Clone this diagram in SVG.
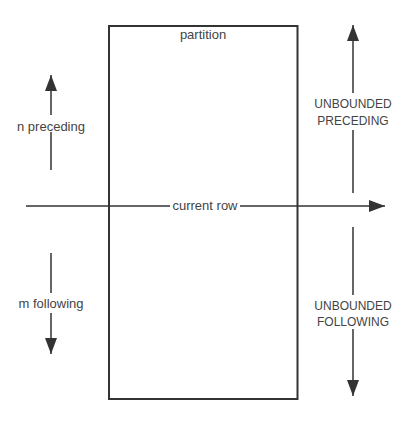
<svg xmlns="http://www.w3.org/2000/svg" width="410" height="424" viewBox="0 0 410 424">
<defs>
<style>
.ln{stroke:#333;stroke-width:1.5;fill:none}
.t{font-family:"Liberation Sans",Arial,sans-serif;font-size:12px;fill:#444;text-anchor:middle}
.lc{font-size:13px}
</style>
<marker id="ah" markerUnits="userSpaceOnUse" markerWidth="18" markerHeight="12" refX="16" refY="6" orient="auto">
<path d="M0,0 L16,6 L0,12 Z" fill="#333"/>
</marker>
</defs>
<rect width="410" height="424" fill="#fff"/>
<g id="partition">
<rect x="109" y="26" width="188.5" height="373" fill="none" stroke="#333" stroke-width="2"/>
<text class="t lc" x="203" y="39">partition</text>
</g>
<g id="connectors">
<line class="ln" x1="26" y1="206" x2="170" y2="206"/>
<line class="ln" x1="240" y1="206" x2="385" y2="206" marker-end="url(#ah)"/>
<line class="ln" x1="51" y1="115" x2="51" y2="75" marker-end="url(#ah)"/>
<line class="ln" x1="51" y1="170" x2="51" y2="132"/>
<line class="ln" x1="51" y1="253" x2="51" y2="293"/>
<line class="ln" x1="51" y1="313" x2="51" y2="354" marker-end="url(#ah)"/>
<line class="ln" x1="353" y1="93" x2="353" y2="25" marker-end="url(#ah)"/>
<line class="ln" x1="353" y1="193" x2="353" y2="130"/>
<line class="ln" x1="353" y1="227" x2="353" y2="295"/>
<line class="ln" x1="353" y1="329" x2="353" y2="396" marker-end="url(#ah)"/>
</g>
<g id="current-row"><text class="t lc" x="205" y="210">current row</text></g>
<g id="n-preceding"><text class="t lc" x="51" y="131">n preceding</text></g>
<g id="m-following"><text class="t lc" x="51" y="308">m following</text></g>
<g id="unbounded-preceding"><text class="t" x="353" y="108">UNBOUNDED</text><text class="t" x="353" y="125">PRECEDING</text></g>
<g id="unbounded-following"><text class="t" x="353" y="310">UNBOUNDED</text><text class="t" x="353" y="326">FOLLOWING</text></g>
</svg>
